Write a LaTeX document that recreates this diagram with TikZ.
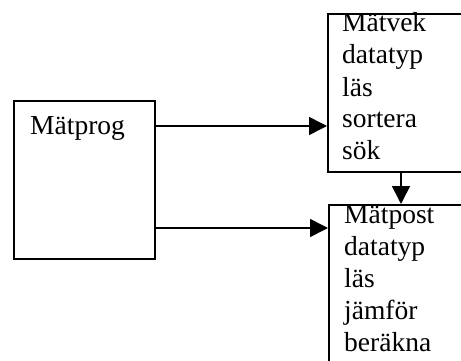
\documentclass[tikz,border=0pt]{standalone}
\usepackage{fontspec}
\setmainfont{Liberation Serif}
\usetikzlibrary{arrows.meta}
\begin{document}
\begin{tikzpicture}[x=1pt,y=-1pt,
  box/.style={draw,line width=2pt,anchor=north west,inner sep=0pt},
  arr/.style={line width=1.6pt,-{Triangle[length=18pt,width=18pt]}},
  lbl/.style={anchor=base west,inner sep=0pt,font=\fontsize{27.5}{32}\selectfont}]
\useasboundingbox (0,0) rectangle (461,361);
% modules
\node[box,minimum width=141pt,minimum height=158pt] (prog) at (13,100) {};
\node[box,minimum width=146pt,minimum height=158pt] (vek) at (327,13) {};
\node[box,minimum width=146pt,minimum height=185pt] (post) at (328,204) {};
% module texts
\node[lbl] (tprog) at (30,135) {Mätprog};
\node[lbl] (v1) at (342,32) {Mätvek};
\node[lbl] (v2) at (342,64) {datatyp};
\node[lbl] (v3) at (342,96) {läs};
\node[lbl] (v4) at (342,128) {sortera};
\node[lbl] (v5) at (342,160) {sök};
\node[lbl] (p1) at (344,223) {Mätpost};
\node[lbl] (p2) at (344,255) {datatyp};
\node[lbl] (p3) at (344,287) {läs};
\node[lbl] (p4) at (344,319) {jämför};
\node[lbl] (p5) at (344,351) {beräkna};
% connectors
\coordinate (o1) at ([yshift=-26pt]prog.north east);
\coordinate (o2) at ([yshift=32pt]prog.south east);
\draw[arr] (o1) -- (o1 -| vek.west);
\draw[arr] (o2) -- (o2 -| post.west);
\draw[arr] (vek.south) -- (vek.south |- post.north);
\end{tikzpicture}
\end{document}
